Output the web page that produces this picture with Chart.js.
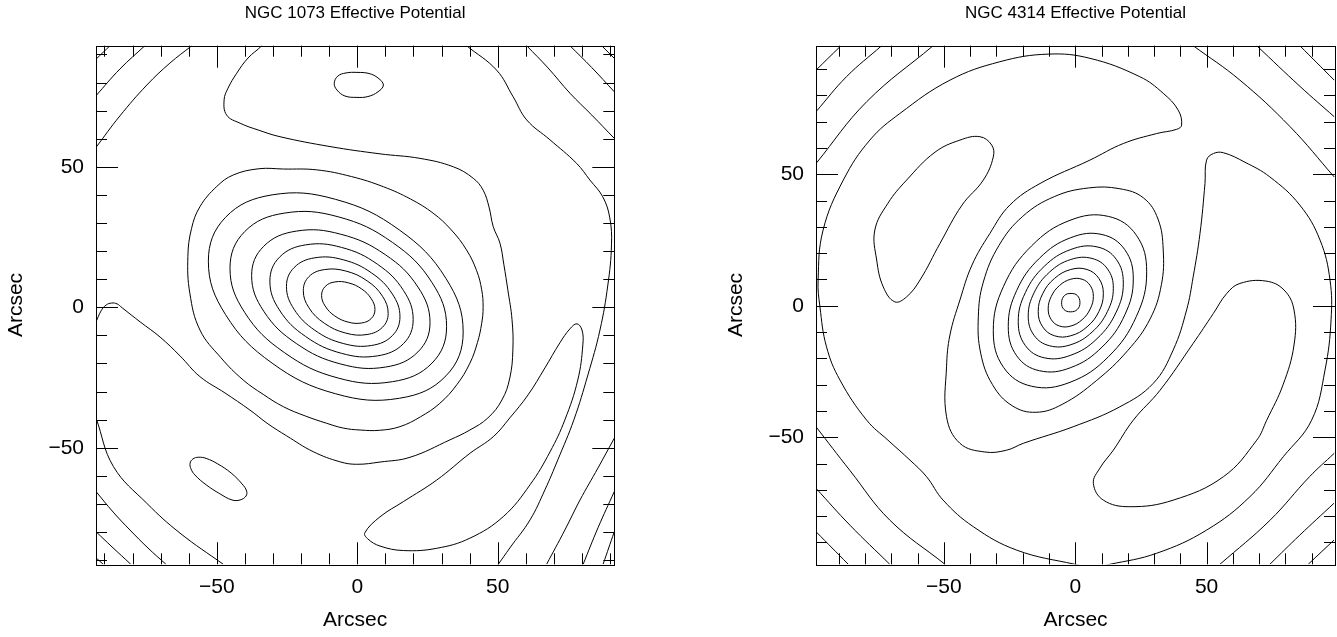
<!DOCTYPE html>
<html>
<head>
<meta charset="utf-8">
<script src="https://cdn.jsdelivr.net/npm/chart.js@4.4.1/dist/chart.umd.min.js"></script>
<style>
  html, body { margin: 0; padding: 0; background: #fff; }
  #wrap { position: relative; width: 1337px; height: 637px; }
  .panel { position: absolute; top: 0; height: 637px; }
</style>
</head>
<body>
<div id="wrap">
  <div class="panel" style="left:0;width:668px"><canvas id="left-chart" width="668" height="637"></canvas></div>
  <div class="panel" style="left:668px;width:669px"><canvas id="right-chart" width="669" height="637"></canvas></div>
</div>
<script>
// ---- axis values ----
const majorTicks = [-50, 0, 50];
const minorTicks = [-90, -80, -70, -60, -50, -40, -30, -20, -10, 0, 10, 20, 30, 40, 50, 60, 70, 80, 90];
const xRange1073 = [-93.0, 91.5];
const yRange1073 = [-91.5, 93.1];
const xRange4314 = [-98.7, 98.9];
const yRange4314 = [-98.3, 98.9];

// ---- NGC 1073 contours (arcsec) ----
const n1073Ring1 = [[6.3,-0.8],[5.0,3.0],[1.6,6.5],[-3.2,8.7],[-8.0,9.0],[-11.4,7.4],[-12.7,4.2],[-11.4,0.4],[-8.0,-3.1],[-3.2,-5.3],[1.6,-5.6],[5.0,-4.0]];
const n1073Ring2 = [[11.0,-2.2],[9.0,3.9],[3.5,9.4],[-4.1,12.9],[-11.7,13.4],[-17.2,10.9],[-19.2,5.9],[-17.2,-0.2],[-11.7,-5.7],[-4.1,-9.2],[3.5,-9.7],[9.0,-7.1]];
const n1073Ring3 = [[15.2,-3.4],[12.5,4.7],[5.1,12.2],[-5.0,16.9],[-15.1,17.6],[-22.5,14.1],[-25.2,7.4],[-22.5,-0.7],[-15.1,-8.2],[-5.0,-12.9],[5.1,-13.6],[12.5,-10.1]];
const n1073Ring4 = [[19.9,-4.4],[16.5,5.9],[7.2,15.3],[-5.6,21.3],[-18.4,22.2],[-27.7,17.8],[-31.1,9.3],[-27.7,-1.0],[-18.4,-10.4],[-5.6,-16.4],[7.2,-17.3],[16.5,-12.9]];
const n1073Ring5 = [[25.9,-5.5],[21.6,7.2],[10.0,18.7],[-5.9,26.0],[-21.7,27.1],[-33.3,21.7],[-37.6,11.3],[-33.3,-1.4],[-21.7,-12.9],[-5.9,-20.2],[10.0,-21.3],[21.6,-15.9]];
const n1073Ring6 = [[31.8,-6.9],[26.6,8.8],[12.5,23.1],[-6.8,32.2],[-26.0,33.5],[-40.1,26.9],[-45.3,13.9],[-40.1,-1.8],[-26.0,-16.1],[-6.8,-25.2],[12.5,-26.5],[26.6,-19.9]];
const n1073Ring7 = [[37.7,-8.8],[31.6,10.2],[15.0,27.5],[-7.7,38.4],[-30.3,40.0],[-46.9,32.0],[-53.0,16.4],[-46.9,-2.6],[-30.3,-19.9],[-7.7,-30.8],[15.0,-32.4],[31.6,-24.4]];
const n1073Ring8 = [[-56.0,-8.1],[-59.6,5],[-60.3,18],[-59,28],[-56.0,35.8],[-50,43],[-44.1,47.1],[-35,49.3],[-26.3,49.2],[-14.4,48.9],[-2,46.5],[9.3,42.9],[19,38.5],[27.0,33.5],[33.5,27.5],[38.9,20.4],[42.5,13],[44.3,6.2],[44.8,0],[44.3,-5.7],[42.8,-12.5],[40.1,-19.9],[35.5,-27.5],[29.4,-34.2],[22.5,-39],[15.2,-42.5],[8,-43.8],[1.0,-43.7],[-5,-43],[-10.9,-41.3],[-18.5,-38.7],[-26.3,-35.4],[-33.5,-31],[-40.6,-25.9],[-48.5,-18]];
const n1073TopBlob = [[-8.2,79.7],[-6.9,82.3],[-4.0,83.4],[-0.1,83.6],[4.2,83.2],[7.4,81.6],[9.3,79.1],[7.4,76.7],[3.8,75.0],[-0.1,74.7],[-4.4,75.2],[-7.2,77.3]];
const n1073LowBlob = [[-59.5,-55.5],[-58.5,-54.0],[-56.6,-53.4],[-53.8,-53.8],[-49.6,-55.8],[-44.9,-59.0],[-41.0,-62.9],[-39.4,-65.4],[-39.6,-67.2],[-41.7,-68.6],[-44.6,-68.6],[-48.9,-66.4],[-53.8,-63.2],[-57.8,-59.7],[-59.2,-57.5]];
const n1073Lobe = [[2.7,-80.3],[8.1,-74.6],[16.4,-69.2],[28.3,-61.5],[40.1,-52.0],[48.4,-46.1],[54.3,-39.4],[60.8,-31.2],[66.8,-21.6],[72.1,-12.7],[75.7,-7.7],[78.2,-5.9],[80.0,-8.1],[80.3,-13.4],[78.5,-25.9],[73.9,-40.1],[68.6,-51.5],[61.5,-63.2],[52.0,-74.5],[40.1,-82.2],[28.3,-85.8],[16.4,-86.6],[8.1,-85.0],[3.8,-82.5]];
// open contour: enters at the top edge, wraps the core, leaves through the left edge
const n1073Wrap = [[-32.8,95.1],[-34.0,93.1],[-38.9,88.7],[-42.9,83.3],[-46.0,78.0],[-47.4,73.8],[-46.5,68.4],[-41.7,65.5],[-35.3,63.1],[-27.5,60.7],[-9.7,57.2],[8.1,54.6],[22.3,53.0],[34.2,50.0],[41.3,45.9],[44.8,41.7],[46.9,35.7],[48.4,28.7],[50.8,22.8],[52.2,15.1],[53.6,6.2],[55.1,-4.5],[55.4,-15.2],[54.3,-25.2],[51.5,-33.0],[46.5,-39.4],[40.1,-43.7],[33.0,-47.2],[18.8,-53.4],[8.1,-55.1],[-0.2,-55.9],[-6.2,-55.0],[-15.7,-51.4],[-25.1,-45.8],[-31.8,-41.5],[-38.2,-36.6],[-47.1,-30.5],[-56.0,-24.7],[-63.1,-17.3],[-70.2,-10.6],[-77.3,-5.2],[-83.7,-0.2],[-85.5,1.2],[-87.4,1.5],[-89.4,0.8],[-91.2,-1.3],[-93.0,-5.2],[-94,-7]];
// open contour: top edge, down along the right side, out through the bottom edge
const n1073Arc = [[38.9,93.1],[49.6,84.4],[55.5,74.9],[60.3,66.7],[68.6,59.6],[78.1,51.2],[82.8,45.3],[87.4,39.3],[89.9,31.8],[90.5,22.2],[89.2,7.9],[86.4,-8.1],[82.1,-24.1],[77.1,-40.1],[71.4,-54.3],[66.8,-65.0],[61.5,-75.7],[54.3,-85.7],[50.2,-91.5],[48.7,-93.5]];
const n1073Corners = [
  [[-93.0,88.3],[-88.0,93.1]],
  [[-93.0,75.3],[-84.5,84.8],[-75.6,93.1]],
  [[-93.0,56.9],[-84.5,68.1],[-74.9,79.1],[-66.7,86.9],[-58.9,93.1]],
  [[60.3,93.1],[67.9,85.2],[75.7,76.2],[83.5,68.4],[91.5,60.1]],
  [[75.7,93.1],[83.5,85.3],[91.5,76.7]],
  [[87.0,93.1],[91.5,88.6]],
  [[-93.5,-38.3],[-93.0,-39.4],[-86.8,-56.7],[-74.9,-69.8],[-63.1,-80.4],[-47.7,-91.5]],
  [[-93.0,-65.6],[-86.9,-72.9],[-80.9,-79.3],[-74.5,-85.7],[-68.1,-91.5]],
  [[-93.0,-79.9],[-87.3,-85.3],[-80.6,-91.5]],
  [[-93.0,-89.2],[-90.4,-91.5]],
  [[67.4,-91.5],[73.9,-79.3],[79.3,-68.6],[85.7,-57.2],[91.5,-46.6]],
  [[80.4,-91.5],[85.7,-78.5],[91.5,-65.6]],
  [[87.5,-91.5],[91.5,-79.9]]
];

// ---- NGC 4314 contours (arcsec) ----
const n4314Ring1 = [[-5.2,1.2],[-4.1,3.9],[-1.6,4.7],[0.8,3.9],[1.8,1.2],[0.8,-1.4],[-1.8,-2.3],[-4.3,-1.4]];
const n4314Ring2 = [[6.9,3.6],[5.7,7.7],[2.6,10.1],[-1.7,10.1],[-6.0,7.7],[-9.1,3.6],[-10.3,-1.2],[-9.1,-5.3],[-6.0,-7.7],[-1.7,-7.7],[2.6,-5.3],[5.7,-1.2]];
const n4314Ring3 = [[10.7,4.6],[9.0,10.4],[4.5,13.8],[-1.7,13.8],[-7.9,10.4],[-12.4,4.6],[-14.1,-2.2],[-12.4,-8.0],[-7.9,-11.4],[-1.7,-11.4],[4.5,-8.0],[9.0,-2.2]];
const n4314Ring4 = [[14.5,6.7],[12.3,14.0],[6.4,18.0],[-1.7,17.6],[-9.8,12.8],[-15.7,4.9],[-17.9,-3.9],[-15.7,-11.2],[-9.8,-15.2],[-1.7,-14.8],[6.4,-10.0],[12.3,-2.1]];
const n4314Ring5 = [[18.3,8.6],[15.6,17.7],[8.3,22.4],[-1.7,21.4],[-11.7,15.1],[-19.0,5.0],[-21.7,-6.0],[-19.0,-15.1],[-11.7,-19.8],[-1.7,-18.8],[8.3,-12.5],[15.6,-2.4]];
const n4314Ring6 = [[22.1,10.2],[18.9,21.3],[10.2,27.1],[-1.7,25.9],[-13.6,18.1],[-22.3,5.8],[-25.5,-7.8],[-22.3,-19.0],[-13.6,-24.7],[-1.7,-23.5],[10.2,-15.7],[18.9,-3.4]];
const n4314Ring7 = [[27.2,12.9],[23.3,26.8],[12.6,34.0],[-2.0,32.5],[-16.6,22.8],[-27.3,7.4],[-31.2,-9.5],[-27.3,-23.4],[-16.6,-30.6],[-2.0,-29.1],[12.6,-19.4],[23.3,-4.0]];
const n4314Ring8 = [[33.5,21.2],[31.5,33],[26,41],[17,44.5],[5,44.8],[-8,41.5],[-20,34],[-29,23],[-35,9],[-36.9,-4.2],[-36,-18],[-31.5,-30],[-24,-38],[-15,-40.5],[-5,-37.5],[8,-28.5],[20,-17],[28.5,-5],[32.8,8]];
const n4314WestLobe = [[-76.3,28.8],[-75.6,17.4],[-73.1,7.2],[-68.7,1.5],[-64.2,3.4],[-59.1,9.8],[-51.5,23.7],[-43.1,38.3],[-35.0,47.8],[-31.2,56.6],[-31.8,61.1],[-36.3,64.3],[-43.9,63.0],[-53.4,58.4],[-64.2,47.8],[-71.3,39.0]];
const n4314EastLobe = [[6.9,-67.5],[10.7,-73.9],[20.8,-76.4],[37.3,-73.9],[56.4,-65.0],[69.1,-51.1],[72.9,-43.5],[79.1,-30.1],[83.3,-14.9],[83.3,-1.6],[79.5,6.0],[72.6,9.4],[62.7,8.5],[57.7,4.7],[52.6,-2.9],[44.9,-14.3],[32.3,-32.1],[22.1,-43.5],[14.5,-54.9],[9.4,-61.7]];
const n4314Outer = [[-0.1,-98.3],[-22.3,-92.9],[-38.8,-84.0],[-50.3,-73.9],[-56.6,-65.0],[-62.9,-58.7],[-71.3,-51.1],[-79.4,-43.5],[-89.6,-28.2],[-94.7,-15.6],[-97.2,-0.4],[-97.9,9.8],[-96.0,28.8],[-88.3,47.8],[-78.2,63.0],[-66.8,73.1],[-47.7,85.8],[-28.7,92.8],[-10.3,95.7],[5.6,94.1],[24.6,87.1],[33.5,80.8],[39.2,74.4],[40.5,68.7],[38.6,67.1],[31.0,65.5],[18.3,61.7],[5.6,55.4],[-13.4,46.5],[-24.9,38.3],[-32.5,27.5],[-39.3,15.5],[-43.9,2.2],[-47.7,-11.1],[-49.0,-23.2],[-49.0,-42.2],[-43.9,-52.3],[-34.4,-55.6],[-26.1,-54.9],[-19.8,-52.3],[-0.8,-46.0],[17.0,-38.4],[29.7,-29.5],[37.3,-16.8],[42.4,-1.6],[44.9,11.0],[47.5,27.5],[49.4,46.5],[50.0,55.4],[52.6,57.9],[56.4,58.2],[64.6,54.6],[74.1,49.0],[85.5,38.3],[93.2,25.0],[97.0,9.8],[97.4,-5.4],[95.1,-24.4],[90.0,-43.5],[79.2,-57.4],[66.5,-72.6],[50.0,-85.3],[31.0,-94.1],[13.2,-98.3],[6.4,-99.3]];
const n4314Corners = [
  [[-98.7,89.6],[-89.6,98.5]],
  [[-98.7,73.8],[-87.1,87.1],[-73.7,98.9]],
  [[-98.7,54.1],[-79.4,77.6],[-54.1,98.9]],
  [[44.9,98.9],[62.7,85.8],[81.8,68.1],[98.6,49.0]],
  [[69.1,98.9],[85.6,83.4],[98.6,71.9]],
  [[85.5,98.9],[98.6,85.8]],
  [[-98.7,-46.0],[-85.8,-62.6],[-70.6,-81.5],[-49.6,-98.3]],
  [[-98.7,-69.4],[-85.8,-83.4],[-70.6,-98.3]],
  [[-98.7,-85.9],[-86.4,-98.3]],
  [[55.1,-98.3],[74.1,-81.6],[89.2,-65.0],[98.6,-56.1]],
  [[74.1,-98.3],[85.5,-87.2],[98.5,-75.1]],
  [[88.7,-98.3],[98.5,-89.1]]
];

const FONT = "'Liberation Sans', Arial, Helvetica, sans-serif";

// closed contours get one extra point at each end so the spline is smooth
// all the way round; the two padding segments are left invisible
function contour(arr, isClosed) {
  const pts = isClosed ? [arr[arr.length - 1]].concat(arr, [arr[0], arr[1]]) : arr;
  const lastIdx = pts.length - 1;
  return {
    data: pts.map(([x, y]) => ({ x: x, y: y })),
    showLine: true,
    borderColor: "#000",
    borderWidth: 1,
    pointRadius: 0,
    tension: 0.4,
    fill: false,
    segment: isClosed ? {
      borderColor: (c) => (c.p0DataIndex === 0 || c.p1DataIndex === lastIdx ? "rgba(0,0,0,0)" : undefined),
    } : undefined,
  };
}

// inward ticks on all four sides + frame
const frameTicks = {
  id: "frameTicks",
  afterDatasetsDraw(chart) {
    const { ctx, chartArea: a, scales } = chart;
    ctx.save();
    ctx.strokeStyle = "#000";
    ctx.lineWidth = 1;
    ctx.beginPath();
    minorTicks.forEach((v) => {
      const len = majorTicks.includes(v) ? 22 : 11;
      const px = Math.round(scales.x.getPixelForValue(v)) + 0.5;
      ctx.moveTo(px, a.bottom);
      ctx.lineTo(px, a.bottom - len);
      ctx.moveTo(px, a.top);
      ctx.lineTo(px, a.top + len);
      const py = Math.round(scales.y.getPixelForValue(v)) + 0.5;
      ctx.moveTo(a.left, py);
      ctx.lineTo(a.left + len, py);
      ctx.moveTo(a.right, py);
      ctx.lineTo(a.right - len, py);
    });
    ctx.stroke();
    ctx.strokeRect(Math.round(a.left) + 0.5, Math.round(a.top) + 0.5,
      Math.round(a.right - a.left), Math.round(a.bottom - a.top));
    ctx.restore();
  },
};

function createPanel(canvasId, title, xRange, yRange, box, datasets) {
  const ctx = document.getElementById(canvasId).getContext("2d");
  const minus = (v) => String(v).replace("-", "\u2212");
  return new Chart(ctx, {
    type: "scatter",
    data: { datasets: datasets },
    plugins: [frameTicks],
    options: {
      responsive: false,
      animation: false,
      events: [],
      layout: { padding: 0 },
      elements: { line: { capBezierPoints: false } },
      plugins: { legend: { display: false }, tooltip: { enabled: false } },
      scales: {
        x: {
          type: "linear", position: "bottom", min: xRange[0], max: xRange[1],
          grid: { display: false, drawTicks: false }, border: { display: false },
          afterBuildTicks: (s) => { s.ticks = majorTicks.map((v) => ({ value: v })); },
          afterFit: (s) => { s.height = box.bottom; },
          ticks: { color: "#000", padding: 10, maxRotation: 0, font: { family: FONT, size: 21 }, callback: minus },
          title: { display: true, text: "Arcsec", color: "#000", font: { family: FONT, size: 21 }, padding: { top: 0, bottom: 4 } },
        },
        y: {
          type: "linear", position: "left", min: yRange[0], max: yRange[1],
          grid: { display: false, drawTicks: false }, border: { display: false },
          afterBuildTicks: (s) => { s.ticks = majorTicks.map((v) => ({ value: v })); },
          afterFit: (s) => { s.width = box.left; },
          ticks: { color: "#000", padding: 12, font: { family: FONT, size: 21 }, callback: minus },
          title: { display: true, text: "Arcsec", color: "#000", font: { family: FONT, size: 21 }, padding: { top: box.ytitle, bottom: 0 } },
        },
        x2: {
          type: "linear", position: "top", min: xRange[0], max: xRange[1],
          grid: { display: false, drawTicks: false }, border: { display: false },
          ticks: { display: false },
          afterFit: (s) => { s.height = box.top; },
          title: { display: true, text: title, color: "#000", font: { family: FONT, size: 17 }, padding: { top: 3, bottom: 0 } },
        },
        y2: {
          type: "linear", position: "right", min: yRange[0], max: yRange[1],
          grid: { display: false, drawTicks: false }, border: { display: false },
          ticks: { display: false },
          afterFit: (s) => { s.width = box.right; },
        },
      },
    },
  });
}

const left1073 = [n1073Ring1, n1073Ring2, n1073Ring3, n1073Ring4, n1073Ring5, n1073Ring6, n1073Ring7, n1073Ring8,
  n1073TopBlob, n1073LowBlob, n1073Lobe].map((r) => contour(r, true))
  .concat([n1073Wrap, n1073Arc].concat(n1073Corners).map((r) => contour(r, false)));

const right4314 = [n4314Ring1, n4314Ring2, n4314Ring3, n4314Ring4, n4314Ring5, n4314Ring6, n4314Ring7, n4314Ring8,
  n4314WestLobe, n4314EastLobe, n4314Outer].map((r) => contour(r, true))
  .concat(n4314Corners.map((r) => contour(r, false)));

createPanel("left-chart", "NGC 1073 Effective Potential", xRange1073, yRange1073,
  { left: 96, right: 53.7, top: 45.7, bottom: 72.7, ytitle: 4 }, left1073);
createPanel("right-chart", "NGC 4314 Effective Potential", xRange4314, yRange4314,
  { left: 148, right: 2, top: 45.7, bottom: 72.7, ytitle: 56 }, right4314);
</script>
</body>
</html>
